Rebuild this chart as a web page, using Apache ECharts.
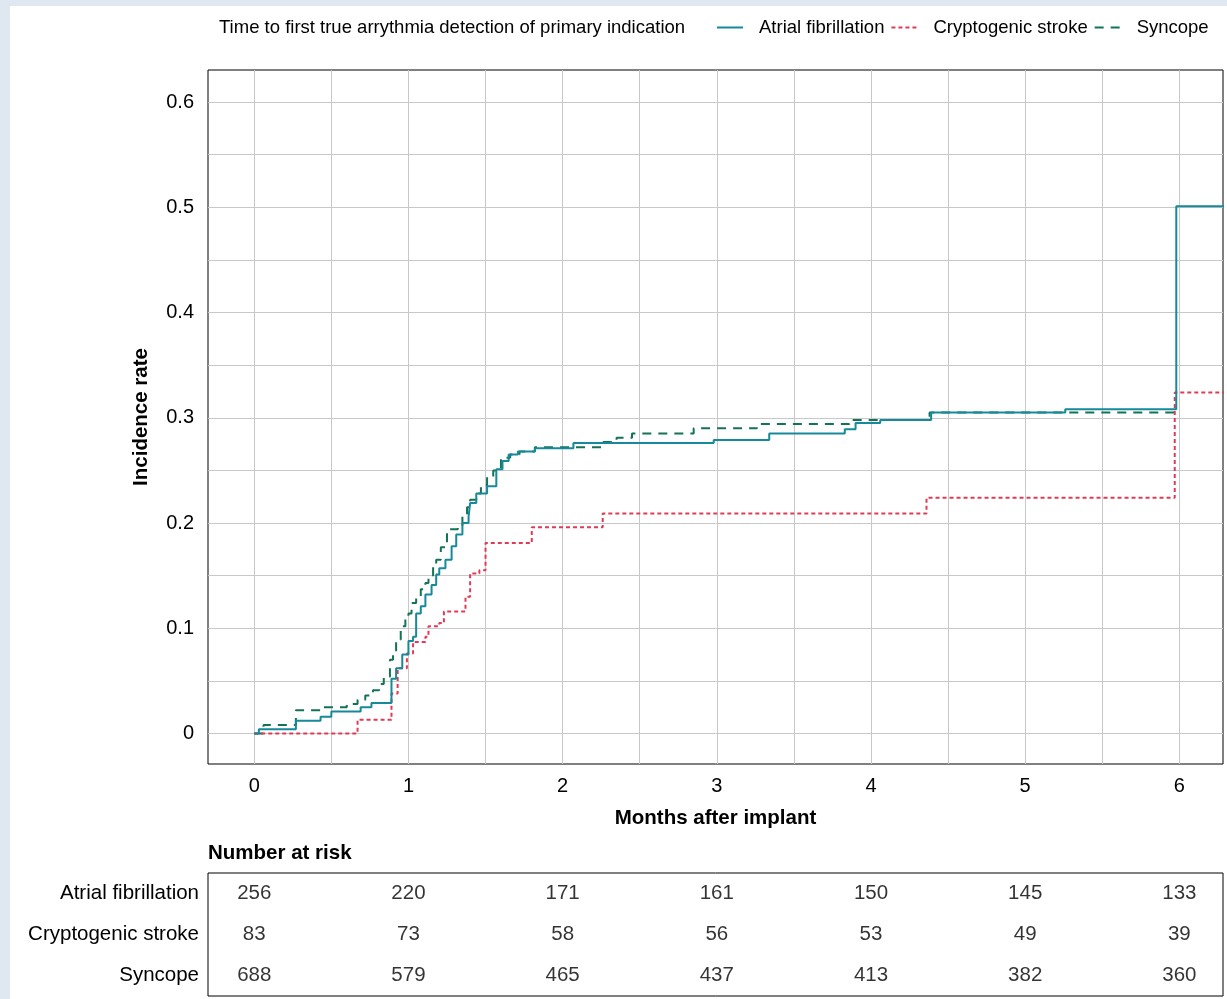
<!DOCTYPE html>
<html>
<head>
<meta charset="utf-8">
<title>Time to first true arrythmia detection</title>
<script src="https://cdn.jsdelivr.net/npm/echarts@6/dist/echarts.min.js"></script>
<style>
  html, body { margin: 0; padding: 0; background: #dfe8f1; }
  .panel { position: absolute; left: 10px; top: 6px; right: 0; bottom: 0; background: #fff; }
  #chart { position: absolute; left: 0; top: 0; width: 1227px; height: 999px; }
</style>
</head>
<body>
<div class="panel"></div>
<div id="chart"></div>
<script>
// 数据：各组的时间(月)和累计发生率(阶梯)
const afTimes = [0, 0.03, 0.27, 0.43, 0.50, 0.69, 0.76, 0.89, 0.92, 0.96, 1.00, 1.03, 1.05, 1.08, 1.11, 1.15, 1.18, 1.20, 1.24, 1.28, 1.31, 1.35, 1.39, 1.40, 1.44, 1.51, 1.57, 1.61, 1.65, 1.71, 1.82, 2.07, 2.98, 3.34, 3.83, 3.90, 4.06, 4.39, 5.26, 5.98, 6.29];
const afRates = [0, 0.004, 0.012, 0.016, 0.021, 0.025, 0.029, 0.052, 0.062, 0.075, 0.088, 0.092, 0.114, 0.121, 0.132, 0.141, 0.151, 0.157, 0.165, 0.178, 0.189, 0.200, 0.206, 0.219, 0.228, 0.235, 0.251, 0.259, 0.265, 0.268, 0.271, 0.276, 0.279, 0.285, 0.289, 0.295, 0.298, 0.305, 0.308, 0.501, 0.501];

const csTimes = [0, 0.67, 0.89, 0.93, 0.99, 1.03, 1.11, 1.13, 1.20, 1.23, 1.37, 1.40, 1.46, 1.50, 1.80, 2.26, 4.36, 5.97, 6.29];
const csRates = [0, 0.013, 0.038, 0.062, 0.076, 0.087, 0.092, 0.102, 0.105, 0.116, 0.130, 0.152, 0.155, 0.181, 0.196, 0.209, 0.224, 0.324, 0.324];

const syTimes = [0, 0.06, 0.27, 0.45, 0.60, 0.67, 0.72, 0.77, 0.81, 0.84, 0.88, 0.90, 0.92, 0.95, 0.98, 1.00, 1.02, 1.05, 1.08, 1.11, 1.13, 1.16, 1.18, 1.21, 1.25, 1.32, 1.35, 1.38, 1.40, 1.44, 1.47, 1.51, 1.55, 1.60, 1.66, 1.72, 1.82, 2.25, 2.35, 2.45, 2.85, 3.26, 3.86, 4.38, 6.00];
const syRates = [0, 0.008, 0.022, 0.025, 0.028, 0.032, 0.036, 0.041, 0.047, 0.054, 0.070, 0.078, 0.089, 0.102, 0.110, 0.114, 0.124, 0.130, 0.137, 0.143, 0.149, 0.158, 0.165, 0.177, 0.194, 0.197, 0.208, 0.215, 0.222, 0.228, 0.236, 0.244, 0.250, 0.262, 0.265, 0.268, 0.272, 0.277, 0.281, 0.285, 0.290, 0.294, 0.298, 0.305, 0.305];

// 刻度与网格
const xTicks = [0, 1, 2, 3, 4, 5, 6];
const xGrid = [0, 0.5, 1, 1.5, 2, 2.5, 3, 3.5, 4, 4.5, 5, 5.5, 6];
const yTicks = [0, 0.1, 0.2, 0.3, 0.4, 0.5, 0.6];
const yGrid = [0, 0.05, 0.1, 0.15, 0.2, 0.25, 0.3, 0.35, 0.4, 0.45, 0.5, 0.55, 0.6];

// Number at risk
const riskGroups = ['Atrial fibrillation', 'Cryptogenic stroke', 'Syncope'];
const riskTimes = [0, 1, 2, 3, 4, 5, 6];
const riskAF = [256, 220, 171, 161, 150, 145, 133];
const riskCS = [83, 73, 58, 56, 53, 49, 39];
const riskSY = [688, 579, 465, 437, 413, 382, 360];

(function () {
    const FONT = 'Liberation Sans, Arial, Helvetica, sans-serif';
    let myChart = echarts.init(document.getElementById('chart'));

    function zip(xs, ys) {
        return xs.map((x, i) => [x, ys[i]]);
    }
    function riskRow(name, vals) {
        return riskTimes.map((t, i) => [t, name, vals[i]]);
    }

    const xMin = -0.3, xMax = 6.283;

    let option = {
        animation: false,
        textStyle: { fontFamily: FONT },
        title: [{
            text: 'Time to first true arrythmia detection of primary indication',
            left: 219, top: 18, padding: 0,
            textStyle: { fontFamily: FONT, fontSize: 18.5, fontWeight: 'normal', color: '#000' }
        }, {
            text: 'Number at risk',
            left: 208, top: 843, padding: 0,
            textStyle: { fontFamily: FONT, fontSize: 20.5, fontWeight: 'bold', color: '#000' }
        }],
        legend: {
            left: 716, top: 18, padding: 0,
            itemWidth: 26, itemHeight: 14, itemGap: 6,
            data: ['Atrial fibrillation', 'Cryptogenic stroke', 'Syncope'],
            itemStyle: { color: 'transparent', borderWidth: 0, opacity: 0 },
            textStyle: { fontFamily: FONT, fontSize: 18.5, color: '#000', padding: [0, 0, 0, 11] }
        },
        grid: [{
            left: 208, right: 4, top: 70, bottom: 235,
            show: true, borderColor: '#000', borderWidth: 1
        }, {
            left: 208, right: 4, top: 873, bottom: 3,
            show: true, borderColor: '#000', borderWidth: 1
        }],
        xAxis: [{
            type: 'value', gridIndex: 0, min: xMin, max: xMax,
            name: 'Months after implant', nameLocation: 'middle', nameGap: 44,
            nameTextStyle: { fontFamily: FONT, fontSize: 20.5, fontWeight: 'bold', color: '#000' },
            axisLine: { show: false },
            axisTick: { show: true, length: 7, customValues: xTicks, lineStyle: { color: '#000' } },
            axisLabel: { customValues: xTicks, margin: 12, fontSize: 20, color: '#000', fontFamily: FONT },
            splitLine: { show: false }
        }, {
            type: 'value', gridIndex: 1, min: xMin, max: xMax,
            show: false
        }],
        yAxis: [{
            type: 'value', gridIndex: 0, min: -0.029, max: 0.6305,
            name: 'Incidence rate', nameLocation: 'middle', nameGap: 56,
            nameTextStyle: { fontFamily: FONT, fontSize: 20.5, fontWeight: 'bold', color: '#000' },
            axisLine: { show: false },
            axisTick: { show: true, length: 7, customValues: yTicks, lineStyle: { color: '#000' } },
            axisLabel: {
                customValues: yTicks, margin: 14, fontSize: 20, color: '#000', fontFamily: FONT,
                formatter: function (v) { return v === 0 ? '0' : v.toFixed(1); }
            },
            splitLine: { show: false }
        }, {
            type: 'category', gridIndex: 1, inverse: true,
            data: riskGroups,
            axisLine: { show: false },
            axisTick: { show: false },
            axisLabel: { margin: 9, fontSize: 20.5, color: '#000', fontFamily: FONT },
            splitLine: { show: false }
        }],
        series: [{
            // 网格线
            name: 'grid', type: 'line', data: [], silent: true,
            markLine: {
                silent: true, symbol: 'none', animation: false,
                label: { show: false },
                lineStyle: { color: '#c8c8c8', width: 1, type: 'solid' },
                data: xGrid.map(v => ({ xAxis: v })).concat(yGrid.map(v => ({ yAxis: v })))
            }
        }, {
            name: 'Atrial fibrillation', type: 'line', step: 'end', z: 12,
            showSymbol: false, symbol: 'none',
            data: zip(afTimes, afRates),
            lineStyle: { color: '#16899a', width: 2 },
            itemStyle: { color: '#16899a' }
        }, {
            name: 'Cryptogenic stroke', type: 'line', step: 'end', z: 11,
            showSymbol: false, symbol: 'none',
            data: zip(csTimes, csRates),
            lineStyle: { color: '#e23a55', width: 2, type: [4, 3] },
            itemStyle: { color: '#e23a55' }
        }, {
            name: 'Syncope', type: 'line', step: 'end', z: 10,
            showSymbol: false, symbol: 'none',
            data: zip(syTimes, syRates),
            lineStyle: { color: '#137356', width: 2, type: [9, 7] },
            itemStyle: { color: '#137356' }
        }, {
            name: 'risk', type: 'scatter', xAxisIndex: 1, yAxisIndex: 1,
            symbolSize: 1, itemStyle: { color: 'transparent' }, silent: true,
            label: {
                show: true, position: 'inside', fontSize: 20.5, color: '#000', fontFamily: FONT,
                formatter: function (p) { return p.value[2]; }
            },
            data: riskRow(riskGroups[0], riskAF)
                .concat(riskRow(riskGroups[1], riskCS))
                .concat(riskRow(riskGroups[2], riskSY))
        }]
    };

    myChart.setOption(option);

    window.addEventListener('resize', function () {
        myChart.resize();
    });
})();
</script>
</body>
</html>
